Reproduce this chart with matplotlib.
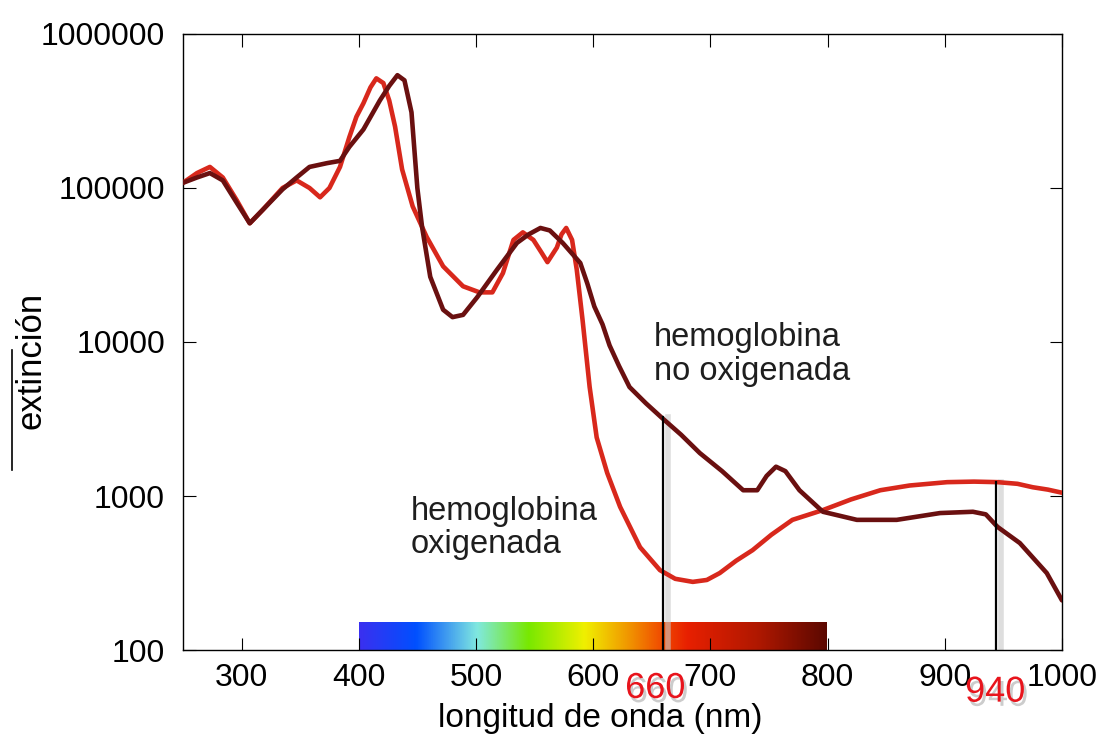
import numpy as np
import matplotlib
matplotlib.use("Agg")
import matplotlib.pyplot as plt
import matplotlib.patheffects as pe
from matplotlib.colors import LinearSegmentedColormap
from matplotlib.lines import Line2D
import matplotlib.transforms as mtransforms

plt.rcParams['font.family'] = ['Liberation Sans', 'DejaVu Sans']

# hemoglobina oxigenada
oxy_nm = [250, 262, 273, 284, 296, 307, 318, 335, 347, 358, 367, 375, 384, 392,
          398, 404, 410, 415, 421, 426, 431, 437, 446, 458, 472, 489, 503, 514,
          523, 532, 540, 549, 556, 561, 569, 573, 577, 582, 586, 591, 597, 603,
          612, 623, 640, 657, 670, 685, 697, 708, 722, 736, 752, 770, 796, 820,
          845, 870, 902, 925, 945, 962, 975, 988, 1000]
oxy_ext = [108000, 125000, 137000, 117000, 83000, 59000, 72000, 100000, 112000,
           100000, 87000, 100000, 137000, 214000, 290000, 355000, 450000, 515000,
           480000, 370000, 250000, 132000, 76000, 48000, 31000, 23000, 21000, 21000,
           28000, 46000, 51500, 46000, 38000, 33000, 41000, 50000, 55000, 46000,
           29500, 13800, 5100, 2400, 1410, 850, 465, 330, 290, 277, 285, 316, 380,
           445, 560, 700, 810, 950, 1090, 1170, 1230, 1240, 1230, 1200, 1140, 1100,
           1050]

# hemoglobina no oxigenada
deoxy_nm = [250, 262, 273, 284, 296, 307, 318, 335, 347, 358, 373, 384, 392, 404,
            418, 426, 433, 439, 445, 450, 454, 461, 472, 480, 489, 501, 518, 535,
            545, 555, 563, 574, 589, 595, 601, 608, 614, 622, 631, 645, 658, 675,
            691, 710, 728, 740, 748, 756, 764, 776, 796, 825, 859, 896, 924, 935,
            945, 964, 987, 1000]
deoxy_ext = [108000, 117000, 125000, 112000, 80000, 59000, 72000, 98000, 117000,
             137000, 145000, 150000, 185000, 240000, 370000, 460000, 540000, 500000,
             310000, 100000, 56000, 26500, 16200, 14500, 15000, 19500, 29500, 44000,
             50000, 55000, 53000, 44000, 32600, 24000, 17000, 13000, 9500, 7000,
             5100, 4000, 3250, 2500, 1900, 1450, 1090, 1090, 1350, 1550, 1450, 1090,
             790, 700, 700, 775, 790, 760, 630, 495, 316, 210]

marker_pos = [660, 944]
marker_top = [3250, 1230]
marker_labels = ['660', '940']

yticks = [100, 1000, 10000, 100000, 1000000]
xticks = [300, 400, 500, 600, 700, 800, 900, 1000]

spectrum_colors = [(0.0, '#3a30f0'), (0.12, '#0050ff'), (0.25, '#80e8e0'),
                   (0.36, '#78e800'), (0.48, '#f0f000'), (0.58, '#f09000'),
                   (0.64, '#f05000'), (0.70, '#e82000'), (0.85, '#b01800'),
                   (1.0, '#5a0800')]

fig = plt.figure(figsize=(11.02, 7.45), dpi=100)
ax = fig.add_axes([0.166, 0.1275, 0.7977, 0.8269])

ax.set_yscale('log')
ax.set_xlim(250, 1000)
ax.set_ylim(100, 1000000)

# spectrum strip along the bottom
cmap = LinearSegmentedColormap.from_list('spec', spectrum_colors)
ax.imshow(np.linspace(0, 1, 256).reshape(1, -1), cmap=cmap, aspect='auto',
          extent=[400, 800, 100, 152], zorder=1)

ax.plot(oxy_nm, oxy_ext, color='#d8281c', lw=3.3, solid_capstyle='round',
        solid_joinstyle='round', zorder=3)
ax.plot(deoxy_nm, deoxy_ext, color='#6a1010', lw=3.3, solid_capstyle='round',
        solid_joinstyle='round', zorder=4)

# marker lines with a soft shadow
shadow = mtransforms.offset_copy(ax.transData, fig=fig, x=5, y=0, units='dots')
for nm, top in zip(marker_pos, marker_top):
    ax.plot([nm, nm], [100, top], color='#c8c8c8', lw=4, alpha=0.6,
            transform=shadow, zorder=2)
    ax.plot([nm, nm], [100, top], color='black', lw=1.6, zorder=5)

ax.set_xticks(xticks)
ax.set_xticklabels([str(v) for v in xticks])
ax.set_yticks(yticks)
ax.set_yticklabels([str(v) for v in yticks])
ax.minorticks_off()
ax.tick_params(direction='in', length=9, width=0.8, top=True, right=True,
               labelsize=23, colors='black')
ax.tick_params(axis='x', pad=9)
ax.tick_params(axis='y', pad=13)
for s in ax.spines.values():
    s.set_linewidth(1.0)

ax.text(652, 13400, 'hemoglobina\nno oxigenada', fontsize=23.5, color='#1e1e1e',
        va='top', ha='left', linespacing=1.1)
ax.text(444, 1000, 'hemoglobina\noxigenada', fontsize=23.5, color='#1e1e1e',
        va='top', ha='left', linespacing=1.1)

trans = mtransforms.blended_transform_factory(ax.transData, ax.transAxes)
shadow_fx = [pe.withSimplePatchShadow(offset=(2, -3), shadow_rgbFace='#808080', alpha=0.4)]
ax.text(653, -0.034, marker_labels[0], transform=trans, color='#e8141c',
        fontsize=26, ha='center', va='top', path_effects=shadow_fx)
ax.text(943, -0.040, marker_labels[1], transform=trans, color='#e8141c',
        fontsize=26, ha='center', va='top', path_effects=shadow_fx)

fig.text(600 / 1102, 1 - 718 / 745, 'longitud de onda (nm)', fontsize=24,
         ha='center', va='center')
fig.text(31 / 1102, 1 - 360 / 745, 'extinción', fontsize=25, rotation=90,
         ha='center', va='center')
fig.add_artist(Line2D([12 / 1102, 12 / 1102], [1 - 350 / 745, 1 - 470 / 745],
                      color='black', lw=1.2))

fig.savefig('out.png', dpi=100)
